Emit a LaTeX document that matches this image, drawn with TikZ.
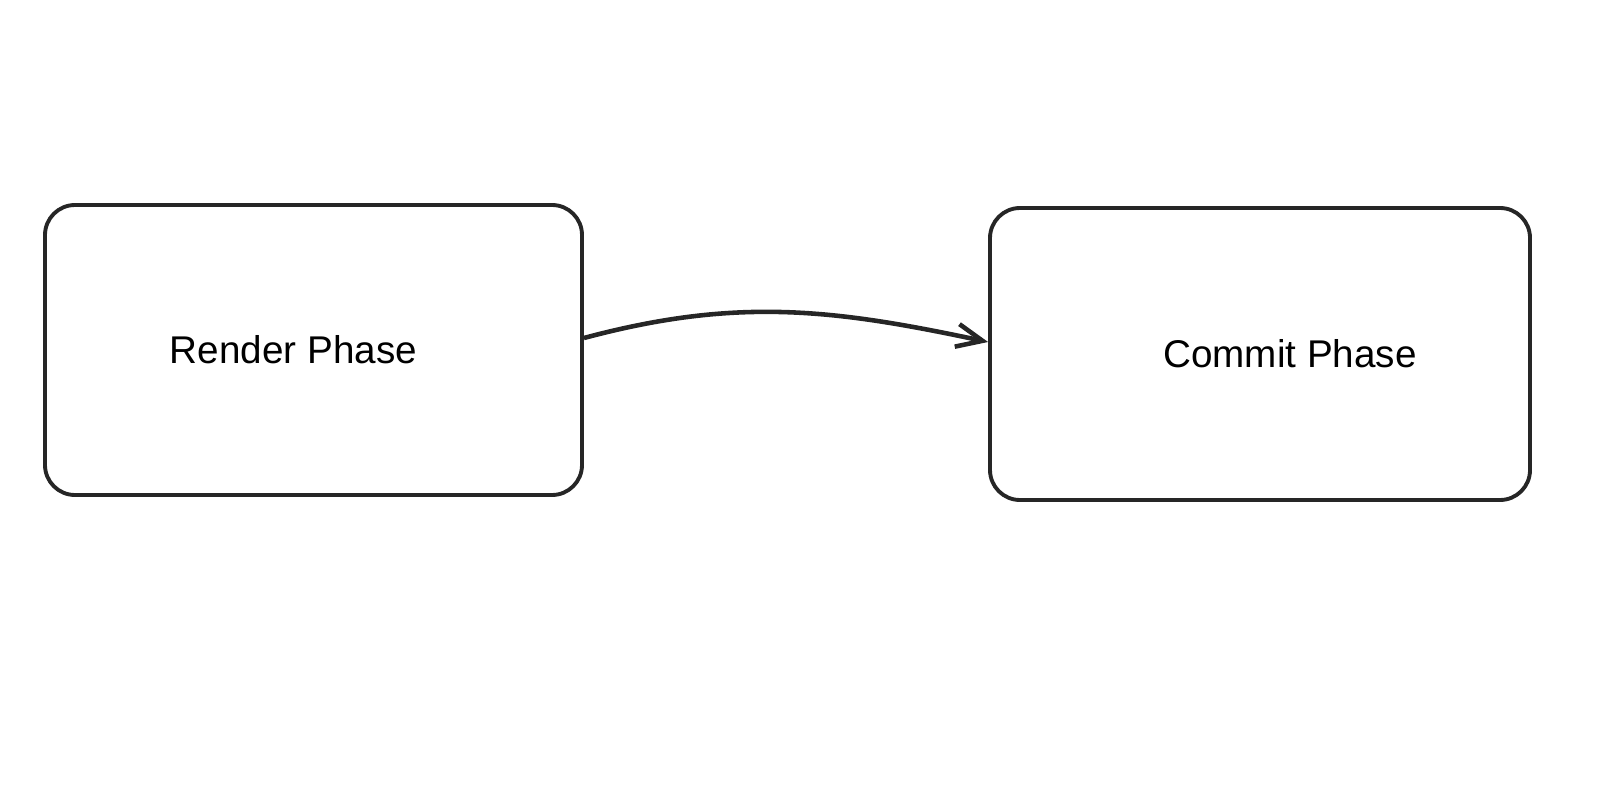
\documentclass[tikz,border=0pt]{standalone}
\usepackage{fontspec}
\setmainfont{Liberation Sans}
\usetikzlibrary{arrows.meta}
\begin{document}
\begin{tikzpicture}[phase/.style={draw=black!85,line width=1.1pt,rounded corners=0.3cm,
    minimum width=5.37cm,minimum height=2.9cm},
  caption/.style={font=\fontsize{11}{13}\selectfont},
  flow/.style={draw=black!85,line width=1.3pt,-{Straight Barb[length=2.6mm,width=2.3mm]}}]
  \useasboundingbox (0,0) rectangle (16,7.96);
  \node[phase,label={[caption,xshift=-0.2cm]center:Render Phase}] (render) at (3.135,4.46) {};
  \node[phase,minimum width=5.4cm,minimum height=2.92cm,
    label={[caption,xshift=0.3cm]center:Commit Phase}] (commit) at (12.6,4.42) {};
  \draw[flow] ([yshift=0.12cm]render.east) to[out=15,in=168] ([yshift=0.12cm]commit.west);
\end{tikzpicture}
\end{document}
